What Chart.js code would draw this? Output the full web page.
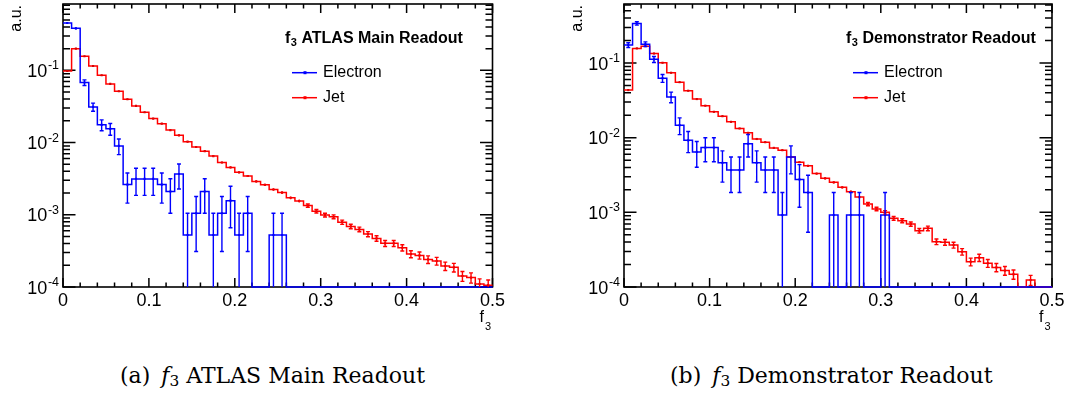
<!DOCTYPE html>
<html>
<head>
<meta charset="utf-8">
<script src="https://cdn.jsdelivr.net/npm/chart.js@4.4.1/dist/chart.umd.min.js"></script>
<style>
  html, body { margin: 0; padding: 0; background: #fff; }
  body { width: 1067px; height: 394px; position: relative; overflow: hidden; }
  canvas { position: absolute; top: 0; }
  #panelA { left: 0; }
  #panelB { left: 540px; }
  .caption {
    position: absolute; top: 362px; line-height: 28px; white-space: nowrap;
    font-family: "DejaVu Serif", "Liberation Serif", serif; font-size: 22px; color: #000;
  }
  .caption sub { font-size: 70%; vertical-align: -0.22em; line-height: 0; }
  #capA { left: 120px; }
  #capB { left: 670px; }
</style>
</head>
<body>
<canvas id="panelA" width="540" height="340"></canvas>
<canvas id="panelB" width="527" height="340"></canvas>
<div class="caption" id="capA">(a)&ensp;<i>f</i><sub>3</sub> ATLAS Main Readout</div>
<div class="caption" id="capB">(b)&ensp;<i>f</i><sub>3</sub> Demonstrator Readout</div>

<script>
// Binning of the f3 histograms: 50 bins of width 0.01 from 0 to 0.5
const BIN_WIDTH = 0.01;
const N_BINS = 50;
const binLow = Array.from({ length: N_BINS }, (_, i) => i * BIN_WIDTH);

// Axis ticks and labels
const xMajorTicks = [0, 0.1, 0.2, 0.3, 0.4, 0.5];
const xTickLabels = ['0', '0.1', '0.2', '0.3', '0.4', '0.5'];
const yDecadeExponents = [-4, -3, -2, -1];
const Y_FLOOR = 1e-4;

const seriesNames = ['Electron', 'Jet'];
const panelTitles = ['ATLAS Main Readout', 'Demonstrator Readout'];

// (a) ATLAS main readout: normalised entries per bin and their uncertainties
const electronMain = [
  0.453, 0.382, 0.0678, 0.0312, 0.0176, 0.0155, 0.0090, 0.00262, 0.00314, 0.00314,
  0.00314, 0.00262, 0.0021, 0.00367, 0.000524, 0.00105, 0.0021, 0.000524, 0.00105, 0.00157,
  0.000524, 0.00105, 0, 0, 0.000524, 0.000524, 0, 0, 0, 0,
  0, 0, 0, 0, 0, 0, 0, 0, 0, 0,
  0, 0, 0, 0, 0, 0, 0, 0, 0, 0
];
const electronMainErr = [
  0.0154, 0.0141, 0.0060, 0.0040, 0.0030, 0.00285, 0.0022, 0.00117, 0.00128, 0.00128,
  0.00128, 0.00117, 0.00105, 0.00139, 0.000524, 0.00074, 0.00105, 0.000524, 0.00074, 0.00091,
  0.000524, 0.00074, 0, 0, 0.000524, 0.000524, 0, 0, 0, 0,
  0, 0, 0, 0, 0, 0, 0, 0, 0, 0,
  0, 0, 0, 0, 0, 0, 0, 0, 0, 0
];
const jetMain = [
  0.098, 0.20, 0.157, 0.115, 0.0855, 0.065, 0.0514, 0.0398, 0.0322, 0.0263,
  0.0215, 0.0183, 0.0149, 0.0126, 0.0103, 0.0087, 0.0076, 0.0065, 0.0053, 0.00453,
  0.00387, 0.00345, 0.0029, 0.0026, 0.00224, 0.00203, 0.00172, 0.00155, 0.00134, 0.00112,
  0.00099, 0.00094, 0.00079, 0.00069, 0.000628, 0.000541, 0.000471, 0.000402, 0.000402, 0.00035,
  0.000286, 0.000274, 0.000241, 0.000229, 0.000195, 0.000187, 0.000142, 0.000135, 0.00011, 0.000106
];
const jetMainErr = [
  5.9e-4, 8.4e-4, 7.4e-4, 6.3e-4, 5.5e-4, 4.8e-4, 4.2e-4, 3.7e-4, 3.4e-4, 3.0e-4,
  2.7e-4, 2.5e-4, 2.3e-4, 2.1e-4, 1.9e-4, 1.75e-4, 1.63e-4, 1.5e-4, 1.37e-4, 1.26e-4,
  1.16e-4, 1.1e-4, 1.0e-4, 9.5e-5, 8.9e-5, 8.4e-5, 7.8e-5, 7.4e-5, 6.8e-5, 6.3e-5,
  5.9e-5, 5.7e-5, 5.3e-5, 4.9e-5, 4.7e-5, 4.35e-5, 4.06e-5, 3.75e-5, 3.75e-5, 3.5e-5,
  3.16e-5, 3.1e-5, 2.9e-5, 2.83e-5, 2.6e-5, 2.56e-5, 2.23e-5, 2.17e-5, 1.96e-5, 1.93e-5
];

// (b) Demonstrator readout
const electronDemo = [
  0.174, 0.339, 0.179, 0.112, 0.0626, 0.035, 0.0147, 0.0092, 0.00644, 0.00736,
  0.00736, 0.0046, 0.00368, 0.00368, 0.00828, 0.0046, 0.00368, 0.00368, 0.00092, 0.00552,
  0.00276, 0.00184, 0, 0, 0.00092, 0, 0.00092, 0.00092, 0, 0,
  0.00092, 0, 0, 0, 0, 0, 0, 0, 0, 0,
  0, 0, 0, 0, 0, 0, 0, 0, 0, 0
];
const electronDemoErr = [
  0.0127, 0.0177, 0.0129, 0.0102, 0.0076, 0.0057, 0.0037, 0.0029, 0.00243, 0.0026,
  0.0026, 0.00206, 0.00184, 0.00184, 0.00276, 0.00206, 0.00184, 0.00184, 0.00092, 0.00225,
  0.00159, 0.0013, 0, 0, 0.00092, 0, 0.00092, 0.00092, 0, 0,
  0.00092, 0, 0, 0, 0, 0, 0, 0, 0, 0,
  0, 0, 0, 0, 0, 0, 0, 0, 0, 0
];
const jetDemo = [
  0.0434, 0.157, 0.168, 0.134, 0.1007, 0.074, 0.0554, 0.0425, 0.0329, 0.0268,
  0.0222, 0.0194, 0.0163, 0.0133, 0.0116, 0.0096, 0.0087, 0.0073, 0.0068, 0.0055,
  0.0047, 0.0042, 0.0033, 0.00285, 0.00252, 0.00216, 0.00189, 0.0016, 0.00129, 0.00111,
  0.001, 0.000832, 0.000773, 0.000697, 0.000567, 0.000611, 0.000405, 0.000397, 0.000365, 0.000297,
  0.000218, 0.000247, 0.000208, 0.000183, 0.000166, 0.000148, 0, 0.000124, 0, 0
];
const jetDemoErr = [
  3.6e-4, 6.9e-4, 7.1e-4, 6.3e-4, 5.5e-4, 4.7e-4, 4.1e-4, 3.6e-4, 3.1e-4, 2.8e-4,
  2.6e-4, 2.4e-4, 2.2e-4, 2.0e-4, 1.9e-4, 1.7e-4, 1.6e-4, 1.5e-4, 1.4e-4, 1.3e-4,
  1.2e-4, 1.1e-4, 1.0e-4, 9.2e-5, 8.7e-5, 8.0e-5, 7.5e-5, 6.9e-5, 6.2e-5, 5.8e-5,
  5.5e-5, 5.0e-5, 4.8e-5, 4.6e-5, 4.1e-5, 4.3e-5, 3.5e-5, 3.5e-5, 3.3e-5, 3.0e-5,
  2.6e-5, 2.7e-5, 2.5e-5, 2.3e-5, 2.2e-5, 2.1e-5, 0, 1.9e-5, 0, 0
];

const BLUE = '#0000ff';
const RED = '#ff0000';
const SANS = '"Liberation Sans", Arial, Helvetica, sans-serif';

// Step outline: one point at each low edge plus the final upper edge; empty bins sit on the axis floor
function stepPoints(values) {
  const pts = values.map((v, i) => ({ x: binLow[i], y: v > 0 ? v : Y_FLOOR }));
  pts.push({ x: binLow[N_BINS - 1] + BIN_WIDTH, y: values[N_BINS - 1] > 0 ? values[N_BINS - 1] : Y_FLOOR });
  return pts;
}
// Bin-centre markers for non-empty bins
function centrePoints(values) {
  const pts = [];
  values.forEach((v, i) => { if (v > 0) pts.push({ x: binLow[i] + BIN_WIDTH / 2, y: v }); });
  return pts;
}

// Frame with inward ticks on all four sides
function drawFrame(chart) {
  const { ctx, chartArea: a, scales: { x, y } } = chart;
  ctx.save();
  ctx.strokeStyle = '#000';
  ctx.lineWidth = 1.5;
  ctx.beginPath();
  for (let k = 0; k <= 25; k++) {
    const px = x.getPixelForValue(k * 0.02);
    const len = k % 5 === 0 ? 9 : 4.5;
    ctx.moveTo(px, a.bottom); ctx.lineTo(px, a.bottom - len);
    ctx.moveTo(px, a.top); ctx.lineTo(px, a.top + len);
  }
  for (const e of yDecadeExponents) {
    for (let m = 1; m <= 9; m++) {
      const v = m * Math.pow(10, e);
      if (v > y.max) break;
      const py = y.getPixelForValue(v);
      const len = m === 1 ? 12.5 : 7;
      ctx.moveTo(a.left, py); ctx.lineTo(a.left + len, py);
      ctx.moveTo(a.right, py); ctx.lineTo(a.right - len, py);
    }
  }
  ctx.stroke();
  ctx.lineWidth = 1.6;
  ctx.strokeRect(a.left, a.top, a.right - a.left, a.bottom - a.top);
  ctx.restore();
}

function drawErrorBars(chart, series) {
  const { ctx, chartArea: a, scales: { x, y } } = chart;
  ctx.save();
  ctx.lineWidth = 1.4;
  for (const s of series) {
    ctx.strokeStyle = s.color;
    ctx.beginPath();
    s.values.forEach((v, i) => {
      if (!(v > 0)) return;
      const e = s.errors[i];
      const cx = x.getPixelForValue(binLow[i] + BIN_WIDTH / 2);
      const hi = v + e, lo = v - e;
      const yt = hi >= y.max ? a.top : y.getPixelForValue(hi);
      const yb = lo > y.min ? y.getPixelForValue(lo) : a.bottom;
      ctx.moveTo(cx, yt); ctx.lineTo(cx, yb);
      if (yb - yt > 3) {
        if (hi < y.max) { ctx.moveTo(cx - 2, yt); ctx.lineTo(cx + 2, yt); }
        if (lo > y.min) { ctx.moveTo(cx - 2, yb); ctx.lineTo(cx + 2, yb); }
      }
    });
    ctx.stroke();
  }
  ctx.restore();
}

function drawText(chart, title) {
  const { ctx, chartArea: a, scales: { x, y } } = chart;
  ctx.save();
  ctx.fillStyle = '#000';

  // x tick labels
  ctx.font = '18px ' + SANS;
  ctx.textAlign = 'center';
  ctx.textBaseline = 'alphabetic';
  xMajorTicks.forEach((v, k) => ctx.fillText(xTickLabels[k], x.getPixelForValue(v), a.bottom + 18.5));

  // y tick labels 10^e
  for (const e of yDecadeExponents) {
    const py = y.getPixelForValue(Math.pow(10, e));
    ctx.font = '12.5px ' + SANS;
    ctx.textAlign = 'right';
    const expText = '-' + Math.abs(e);
    ctx.fillText(expText, a.left - 4, py - 1);
    const expW = ctx.measureText(expText).width;
    ctx.font = '18px ' + SANS;
    ctx.fillText('10', a.left - 4 - expW - 0.5, py + 6.5);
  }

  // axis titles
  ctx.font = '16px ' + SANS;
  ctx.textAlign = 'left';
  ctx.fillText('f', a.right - 13, a.bottom + 35);
  ctx.font = '11px ' + SANS;
  ctx.fillText('3', a.right - 7.5, a.bottom + 43);

  ctx.save();
  ctx.translate(a.left - 42, a.top + 1);
  ctx.rotate(-Math.PI / 2);
  ctx.font = '16px ' + SANS;
  ctx.textAlign = 'right';
  ctx.fillText('a.u.', 0, 0);
  ctx.restore();

  // legend block
  const lx = a.left + 222;
  ctx.textAlign = 'left';
  ctx.font = 'bold 16px ' + SANS;
  ctx.fillText('f', lx, 43);
  const fw = ctx.measureText('f').width;
  ctx.font = 'bold 11px ' + SANS;
  ctx.fillText('3', lx + fw + 0.5, 46);
  const tw = ctx.measureText('3').width;
  ctx.font = 'bold 16px ' + SANS;
  ctx.fillText(title, lx + fw + tw + 5, 43);

  const entries = [[seriesNames[0], BLUE, 72.7], [seriesNames[1], RED, 97.7]];
  ctx.font = '16px ' + SANS;
  ctx.textBaseline = 'middle';
  for (const [name, color, ey] of entries) {
    ctx.strokeStyle = color;
    ctx.lineWidth = 1.5;
    ctx.beginPath();
    ctx.moveTo(a.left + 229, ey); ctx.lineTo(a.left + 254, ey);
    ctx.stroke();
    ctx.fillStyle = color;
    ctx.fillRect(a.left + 240.5, ey - 1.5, 3, 3);
    ctx.fillStyle = '#000';
    ctx.fillText(name, a.left + 260, ey);
  }
  ctx.restore();
}

function makePanel(canvasId, padLeft, padRight, yMax, title, electron, electronErr, jet, jetErr) {
  const series = [
    { color: RED, values: jet, errors: jetErr },
    { color: BLUE, values: electron, errors: electronErr }
  ];
  return new Chart(document.getElementById(canvasId), {
    type: 'line',
    data: {
      datasets: [
        { label: seriesNames[0], data: stepPoints(electron), borderColor: BLUE, borderWidth: 1.5,
          stepped: 'before', pointRadius: 0, fill: false, clip: 3, order: 1 },
        { label: seriesNames[1], data: stepPoints(jet), borderColor: RED, borderWidth: 1.5,
          stepped: 'before', pointRadius: 0, fill: false, clip: 3, order: 3 },
        { label: seriesNames[0] + ' markers', data: centrePoints(electron), showLine: false,
          pointStyle: 'rect', pointRadius: 1.5, pointBorderWidth: 0, pointBackgroundColor: BLUE, order: 0 },
        { label: seriesNames[1] + ' markers', data: centrePoints(jet), showLine: false,
          pointStyle: 'rect', pointRadius: 1.5, pointBorderWidth: 0, pointBackgroundColor: '#d00000', order: 2 }
      ]
    },
    options: {
      responsive: false,
      animation: false,
      devicePixelRatio: 1,
      events: [],
      layout: { padding: { left: padLeft, right: padRight, top: 4, bottom: 53 } },
      scales: {
        x: { type: 'linear', min: 0, max: 0.5, display: false },
        y: { type: 'logarithmic', min: Y_FLOOR, max: yMax, display: false }
      },
      plugins: { legend: { display: false }, tooltip: { enabled: false } }
    },
    plugins: [{
      id: 'rootStyle',
      beforeDatasetsDraw: (chart) => drawFrame(chart),
      afterDatasetsDraw: (chart) => drawErrorBars(chart, series),
      afterDraw: (chart) => drawText(chart, title)
    }]
  });
}

makePanel('panelA', 63, 47.5, 0.83, panelTitles[0], electronMain, electronMainErr, jetMain, jetMainErr);
makePanel('panelB', 84, 15, 0.617, panelTitles[1], electronDemo, electronDemoErr, jetDemo, jetDemoErr);
</script>
</body>
</html>
